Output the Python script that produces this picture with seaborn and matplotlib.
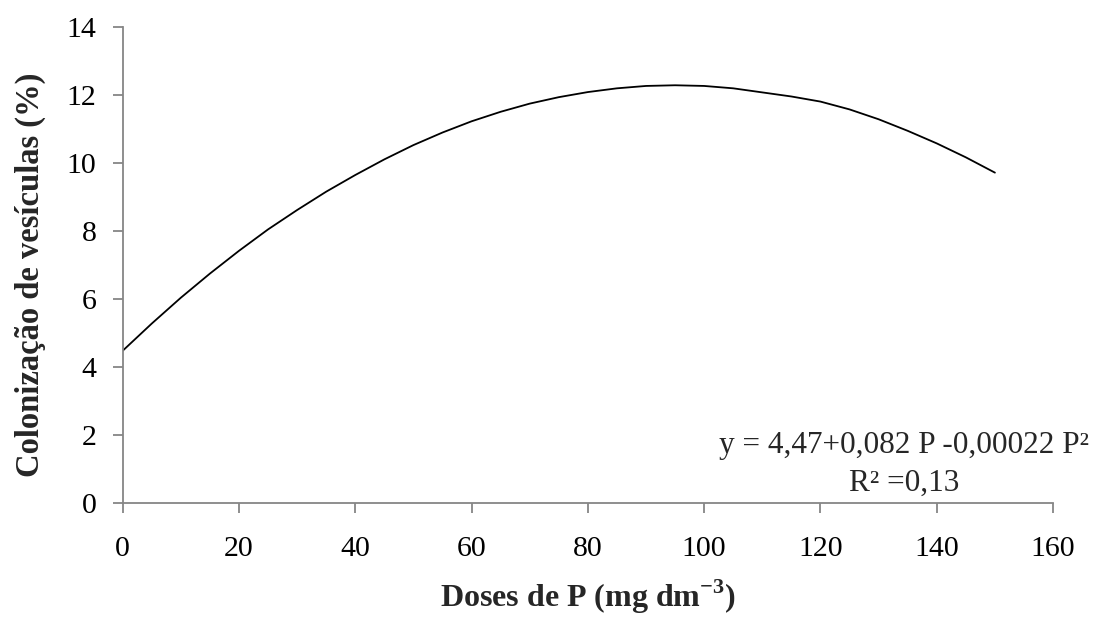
import numpy as np
import pandas as pd
import matplotlib
matplotlib.use("Agg")
import matplotlib.pyplot as plt
import seaborn as sns

# values
doses = [0, 5, 10, 15, 20, 25, 30, 35, 40, 45, 50, 55, 60, 65, 70, 75, 80, 85,
         90, 95, 100, 105, 110, 115, 120, 125, 130, 135, 140, 145, 150]
colonizacao = [4.47, 5.27, 6.03, 6.74, 7.41, 8.04, 8.61, 9.15, 9.64, 10.10,
               10.52, 10.89, 11.22, 11.50, 11.74, 11.93, 12.08, 12.19, 12.26,
               12.28, 12.26, 12.19, 12.07, 11.95, 11.80, 11.57, 11.28, 10.94,
               10.57, 10.16, 9.71]
x_ticks = [0, 20, 40, 60, 80, 100, 120, 140, 160]
y_ticks = [0, 2, 4, 6, 8, 10, 12, 14]

eq_line1 = "y = 4,47+0,082 P -0,00022 P²"
eq_line2 = "R² =0,13"

sns.set_style("ticks")
plt.rcParams['font.family'] = ['Liberation Serif', 'DejaVu Serif']
plt.rcParams['mathtext.fontset'] = 'custom'
plt.rcParams['mathtext.rm'] = 'Liberation Serif'
plt.rcParams['mathtext.bf'] = 'Liberation Serif:bold'

df = pd.DataFrame({"dose": doses, "col": colonizacao})

fig = plt.figure(figsize=(11.02, 6.23), dpi=100)
ax = fig.add_axes([0.1113, 0.193, 0.8443, 0.764])

sns.lineplot(data=df, x="dose", y="col", ax=ax, color="black", linewidth=1.3)

ax.set_xlim(0, 160)
ax.set_ylim(0, 14)
ax.set_xticks(x_ticks)
ax.set_yticks(y_ticks)

grey = "#868686"
for s in ["top", "right"]:
    ax.spines[s].set_visible(False)
for s in ["left", "bottom"]:
    ax.spines[s].set_color(grey)
    ax.spines[s].set_linewidth(1.3)
ax.tick_params(axis="both", colors=grey, length=7, width=1.3, labelsize=21.5,
               labelcolor="black")
ax.tick_params(axis="x", pad=17)
ax.tick_params(axis="y", pad=12)

ax.set_xlabel("Doses de P (mg dm$^{\\mathbf{-3}}$)", fontsize=23, fontweight="bold")
ax.set_ylabel("Colonização de vesículas (%)", fontsize=23.5, fontweight="bold")
ax.xaxis.label.set_verticalalignment("center")
ax.yaxis.label.set_verticalalignment("center")
ax.xaxis.set_label_coords(0.5, -0.197)
ax.yaxis.set_label_coords(-0.099, 0.479)

ax.text(134.4, 1.45, eq_line1, fontsize=22.5, ha="center", va="baseline")
ax.text(134.4, 0.34, eq_line2, fontsize=22.5, ha="center", va="baseline")

fig.savefig("out.png", dpi=100)
